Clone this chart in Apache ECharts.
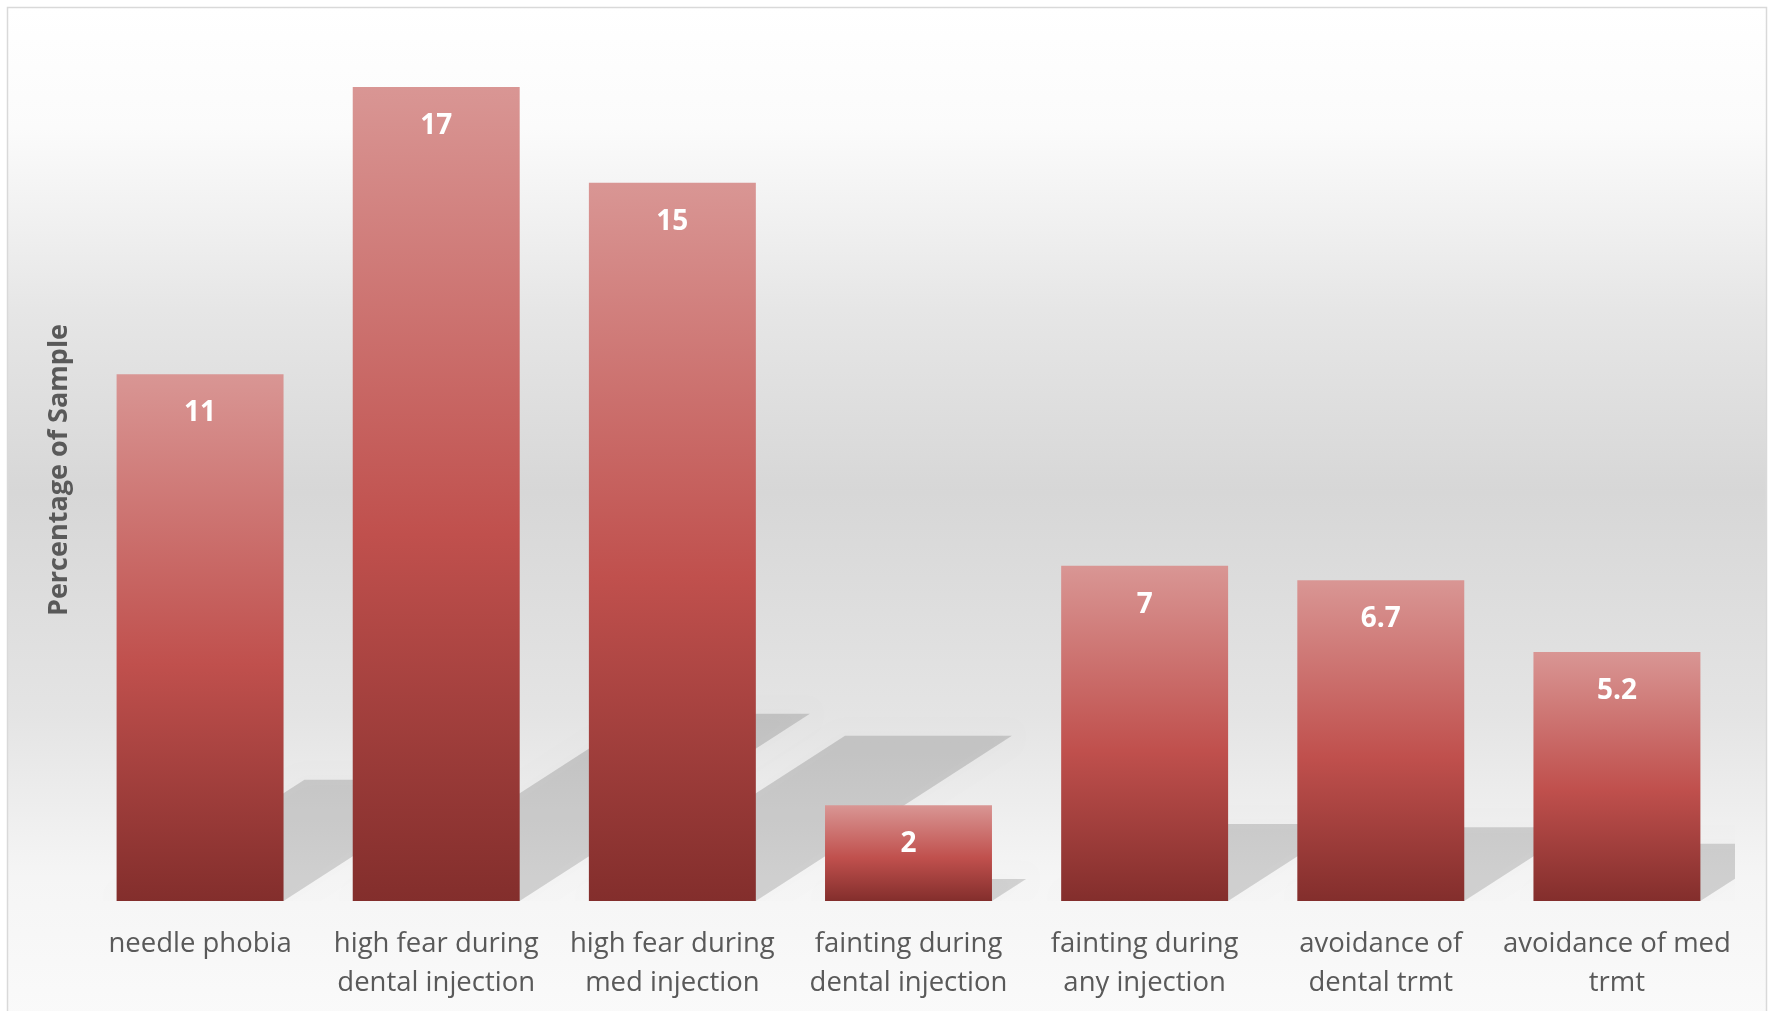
<!DOCTYPE html>
<html>
<head>
<meta charset="utf-8">
<script src="https://cdn.jsdelivr.net/npm/echarts@6/dist/echarts.min.js"></script>
<style>
html,body{margin:0;padding:0;background:#fff;}
#c{width:1771px;height:1011px;}
</style>
</head>
<body>
<div id="c"></div>
<script>
const categories = [
  "needle phobia",
  "high fear during\ndental injection",
  "high fear during\nmed injection",
  "fainting during\ndental injection",
  "fainting during\nany injection",
  "avoidance of\ndental trmt",
  "avoidance of med\ntrmt"
];
const values = [11, 17, 15, 2, 7, 6.7, 5.2];
const yAxisTitle = "Percentage of Sample";

const chart = echarts.init(document.getElementById('c'), null, {renderer: 'canvas'});

const barGradient = new echarts.graphic.LinearGradient(0, 0, 0, 1, [
  {offset: 0, color: '#d99694'},
  {offset: 0.55, color: '#c0504d'},
  {offset: 1, color: '#832e2c'}
]);

const option = {
  animation: false,
  backgroundColor: '#ffffff',
  graphic: [{
    type: 'rect',
    z: -10,
    silent: true,
    shape: {x: 7.5, y: 7.5, width: 1759, height: 1010},
    style: {
      fill: new echarts.graphic.LinearGradient(0, 0, 0, 1, [
        {offset: 0, color: '#ffffff'},
        {offset: 0.12, color: '#fbfbfb'},
        {offset: 0.3, color: '#e6e6e6'},
        {offset: 0.48, color: '#d7d7d7'},
        {offset: 0.7, color: '#e4e4e4'},
        {offset: 0.86, color: '#f5f5f5'},
        {offset: 1, color: '#fafafa'}
      ]),
      stroke: '#d9d9d9',
      lineWidth: 1.5
    }
  }],
  grid: {left: 82, right: 36, top: 39, bottom: 110, containLabel: false},
  xAxis: {
    type: 'category',
    data: categories,
    axisLine: {show: false},
    axisTick: {show: false},
    axisLabel: {
      interval: 0,
      color: '#595959',
      fontFamily: 'Open Sans',
      fontSize: 27.5,
      lineHeight: 39,
      margin: 24
    }
  },
  yAxis: {
    type: 'value',
    min: 0,
    max: 18,
    axisLine: {show: false},
    axisTick: {show: false},
    axisLabel: {show: false},
    splitLine: {show: false},
    name: yAxisTitle,
    nameLocation: 'middle',
    nameGap: 9,
    nameTextStyle: {
      color: '#595959',
      fontFamily: 'Open Sans',
      fontWeight: 'bold',
      fontSize: 27
    }
  },
  series: [
    {
      type: 'custom',
      z: 1,
      silent: true,
      clip: true,
      data: values,
      renderItem: function (params, api) {
        const idx = params.dataIndex;
        const v = api.value(0);
        const top = api.coord([idx, v]);
        const base = api.coord([idx, 0]);
        const w = api.size([1, 0])[0] * 0.707;
        const h = base[1] - top[1];
        const dy = h * 0.23;
        const dx = dy * 1.55;
        const xl = base[0] - w / 2, xr = base[0] + w / 2, yb = base[1];
        return {
          type: 'polygon',
          shape: {points: [[xl, yb], [xr, yb], [xr + dx, yb - dy], [xl + dx, yb - dy]]},
          style: {
            fill: 'rgba(0,0,0,0.14)',
            shadowBlur: 16,
            shadowColor: 'rgba(0,0,0,0.12)'
          }
        };
      },
      encode: {x: -1, y: 0}
    },
    {
      type: 'bar',
      z: 2,
      data: values,
      barWidth: '70.7%',
      itemStyle: {color: barGradient},
      label: {
        show: true,
        position: 'insideTop',
        distance: 24,
        color: '#ffffff',
        fontFamily: 'Open Sans',
        fontWeight: 'bold',
        fontSize: 28,
        lineHeight: 30
      }
    }
  ]
};
chart.setOption(option);
</script>
</body>
</html>
